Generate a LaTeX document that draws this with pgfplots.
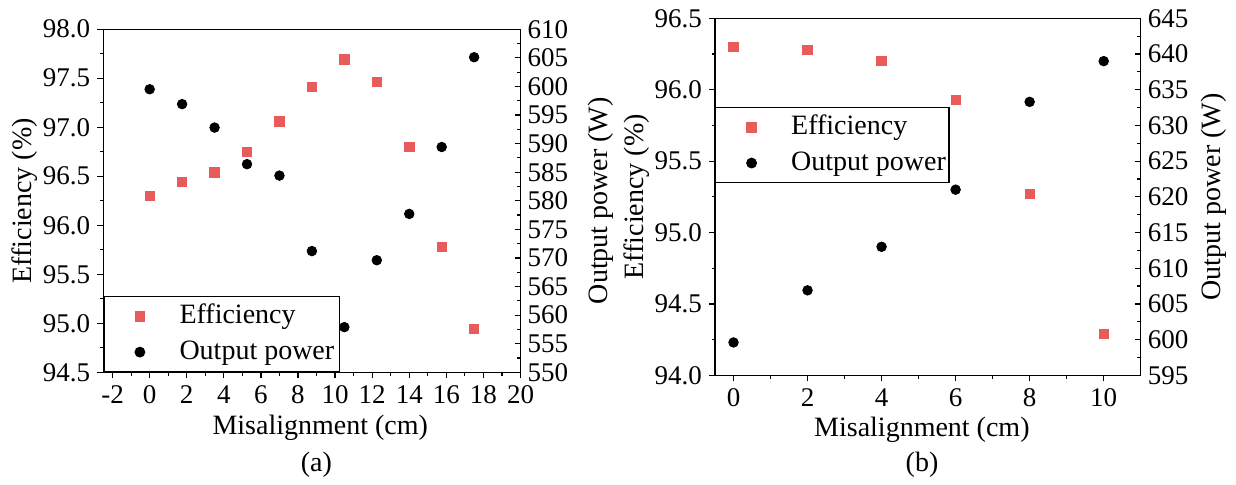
\documentclass[border=0pt]{standalone}
\usepackage{fontspec}
\setmainfont{Liberation Serif}
\usepackage{pgfplots}
\pgfplotsset{compat=1.18}
\definecolor{effred}{RGB}{233,90,90}

\pgfplotsset{
  base/.style={
    scale only axis,
    /pgf/number format/assume math mode=true,
    tick label style={font=\fontsize{13.5}{15}\selectfont},
    label style={font=\fontsize{14}{16}\selectfont},
    axis line style={line width=0.6pt},
    every tick/.append style={line width=0.6pt, black},
    major tick length=3pt, minor tick length=1.7pt,
  },
  effmark/.style={only marks, mark=square*, mark size=2.35pt, color=effred},
  powmark/.style={only marks, mark=*, mark size=2.4pt, black},
  leg/.style={
    legend style={draw=black, line width=0.6pt, fill=white,
      inner xsep=0pt, inner ysep=3.3pt, row sep=4.9pt, column sep=1.8pt,
      font=\fontsize{14}{16}\selectfont, cells={anchor=west},
      nodes={inner sep=0pt, text height=10pt, text depth=3pt}},
    legend image code/.code={
      \path[draw=none, fill=none] (0pt,-1pt) rectangle (36pt,1pt);
      \path[##1, draw=none] plot coordinates {(18pt,0pt)};
    },
  },
}

\begin{document}
\begin{tikzpicture}
\path (0,0) rectangle (618pt,240.5pt);

% ---------- (a) ----------
\begin{axis}[base,
  at={(51.65pt,54.35pt)}, anchor=south west,
  width=208.6pt, height=171.55pt,
  xmin=-2.5, xmax=20, ymin=94.5, ymax=98,
  xtick={-2,0,2,4,6,8,10,12,14,16,18,20}, minor x tick num=1,
  ytick={94.5,95,95.5,96,96.5,97,97.5,98}, minor y tick num=1,
  tick align=outside, xtick pos=bottom, ytick pos=left,
  yticklabel style={/pgf/number format/.cd, fixed, fixed zerofill, precision=1},
  xlabel={Misalignment (cm)}, ylabel={Efficiency (\%)},
  xlabel style={at={(axis description cs:0.52,0)}, anchor=center, yshift=-27.5pt},
  ylabel style={at={(axis description cs:-0.188,0.5)}, anchor=center},
]
  % efficiency
  \addplot[effmark] coordinates {
    (0,96.30) (1.75,96.44) (3.5,96.54) (5.25,96.75) (7,97.06) (8.75,97.41)
    (10.5,97.69) (12.25,97.46) (14,96.80) (15.75,95.78) (17.5,94.94)
  };
\end{axis}
\begin{axis}[base, leg,
  at={(51.65pt,54.35pt)}, anchor=south west,
  width=208.6pt, height=171.55pt,
  xmin=-2.5, xmax=20, ymin=550, ymax=610,
  axis x line=none, axis y line*=right,
  ytick={550,555,...,610}, minor y tick num=1,
  tick align=inside,
  ylabel={Output power (W)},
  ylabel style={at={(axis description cs:1.193,0.5)}, anchor=center},
  legend style={at={(0,0)}, anchor=south west},
]
  \addlegendimage{effmark}\addlegendentry{Efficiency}
  % output power
  \addplot[powmark] coordinates {
    (0,599.5) (1.75,596.9) (3.5,592.8) (5.25,586.4) (7,584.4) (8.75,571.2)
    (10.5,557.9) (12.25,569.6) (14,577.7) (15.75,589.4) (17.5,605.1)
  };
  \addlegendentry{Output power\hspace*{2.5pt}}
\end{axis}
\node[font=\fontsize{14}{16}\selectfont] at (158.2pt,8pt) {(a)};

% ---------- (b) ----------
\begin{axis}[base,
  at={(357.5pt,52.85pt)}, anchor=south west,
  width=212.85pt, height=178.5pt,
  xmin=-0.5, xmax=11, ymin=94, ymax=96.5,
  xtick={0,2,4,6,8,10}, minor x tick num=1,
  ytick={94,94.5,95,95.5,96,96.5}, minor y tick num=1,
  tick align=outside, xtick pos=bottom, ytick pos=left,
  yticklabel style={/pgf/number format/.cd, fixed, fixed zerofill, precision=1},
  xlabel={Misalignment (cm)}, ylabel={Efficiency (\%)},
  xlabel style={at={(axis description cs:0.486,0)}, anchor=center, yshift=-27.4pt},
  ylabel style={at={(axis description cs:-0.185,0.5)}, anchor=center},
]
  \addplot[effmark] coordinates {
    (0,96.30) (2,96.28) (4,96.20) (6,95.93) (8,95.27) (10,94.29)
  };
\end{axis}
\begin{axis}[base, leg,
  at={(357.5pt,52.85pt)}, anchor=south west,
  width=212.85pt, height=178.5pt,
  xmin=-0.5, xmax=11, ymin=595, ymax=645,
  axis x line=none, axis y line*=right,
  ytick={595,600,...,645}, minor y tick num=1,
  tick align=inside,
  ylabel={Output power (W)},
  ylabel style={at={(axis description cs:1.172,0.5)}, anchor=center},
  legend style={at={(0,0.538)}, anchor=south west},
]
  \addlegendimage{effmark}\addlegendentry{Efficiency}
  \addplot[powmark] coordinates {
    (0,599.6) (2,606.9) (4,613.0) (6,621.0) (8,633.3) (10,639.0)
  };
  \addlegendentry{Output power\hspace*{1.5pt}}
\end{axis}
\node[font=\fontsize{14}{16}\selectfont] at (461pt,8pt) {(b)};
\end{tikzpicture}
\end{document}
